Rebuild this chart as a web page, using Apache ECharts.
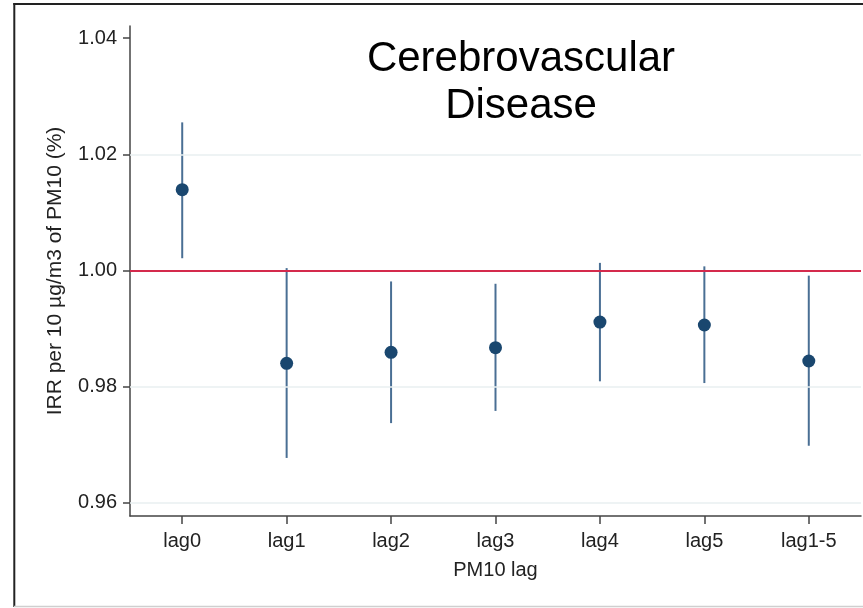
<!DOCTYPE html>
<html>
<head>
<meta charset="utf-8">
<title>Cerebrovascular Disease – IRR by PM10 lag</title>
<script src="https://cdn.jsdelivr.net/npm/echarts@6/dist/echarts.min.js"></script>
<style>
  html, body { margin: 0; padding: 0; background: #fff; }
  #chart { width: 863px; height: 608px; }
</style>
</head>
<body>
<div id="chart"></div>
<script>
// Lags of PM10 exposure
const lags = ['lag0', 'lag1', 'lag2', 'lag3', 'lag4', 'lag5', 'lag1-5'];
// Incidence rate ratio (point estimate) and 95% CI bounds
const irr      = [1.0139, 0.9840, 0.9859, 0.9867, 0.9911, 0.9906, 0.9844];
const ciLower  = [1.0021, 0.9677, 0.9737, 0.9758, 0.9809, 0.9806, 0.9698];
const ciUpper  = [1.0255, 1.0004, 0.9981, 0.9977, 1.0013, 1.0007, 0.9991];
// Y-axis ticks; 1.00 is the null-effect reference
const yTicks = [0.96, 0.98, 1.00, 1.02, 1.04];
const gridTicks = [0.96, 0.98, 1.02];
const referenceValue = 1.00;
const yRange = [0.9577, 1.0421];

const FONT = '"Liberation Sans", Arial, sans-serif';
const chart = echarts.init(document.getElementById('chart'), null, { renderer: 'canvas' });

const ciData = lags.map((_, i) => [i, ciLower[i], ciUpper[i]]);
const pointData = lags.map((_, i) => [i, irr[i]]);

chart.setOption({
  animation: false,
  backgroundColor: '#ffffff',
  grid: { left: 130, right: 2, top: 26, bottom: 92, containLabel: false },
  xAxis: {
    type: 'category',
    data: lags,
    boundaryGap: true,
    name: 'PM10 lag',
    nameLocation: 'middle',
    nameGap: 44,
    nameTextStyle: { fontSize: 20, color: '#222', fontFamily: FONT },
    axisLine: { show: true, lineStyle: { color: '#444', width: 1.5 } },
    axisTick: { show: true, alignWithLabel: true, length: 8, lineStyle: { color: '#444', width: 1.5 } },
    axisLabel: { fontSize: 20, color: '#222', fontFamily: FONT, margin: 15 },
    splitLine: { show: false }
  },
  yAxis: {
    type: 'value',
    min: yRange[0],
    max: yRange[1],
    name: 'IRR per 10 µg/m3 of PM10 (%)',
    nameLocation: 'middle',
    nameGap: 64,
    nameTextStyle: { fontSize: 21, color: '#222', fontFamily: FONT },
    axisLine: { show: true, lineStyle: { color: '#444', width: 1.5 } },
    axisTick: { show: true, length: 7, customValues: yTicks, lineStyle: { color: '#444', width: 1.5 } },
    axisLabel: {
      fontSize: 20, color: '#222', fontFamily: FONT, margin: 13,
      customValues: yTicks,
      formatter: v => v.toFixed(2)
    },
    splitLine: { show: false }
  },
  graphic: [
    {
      type: 'text',
      x: 521, y: 36,
      z: 10,
      style: {
        text: 'Cerebrovascular\nDisease',
        fill: '#000',
        fontSize: 42,
        fontFamily: FONT,
        lineHeight: 47,
        align: 'center',
        verticalAlign: 'top'
      }
    },
    // frame around the figure
    { type: 'line', z: 20, shape: { x1: 14.3, y1: 3, x2: 14.3, y2: 607 }, style: { stroke: '#222', lineWidth: 2 } },
    { type: 'line', z: 20, shape: { x1: 13.3, y1: 4, x2: 863, y2: 4 }, style: { stroke: '#222', lineWidth: 2 } },
    { type: 'line', z: 20, shape: { x1: 14, y1: 606.5, x2: 863, y2: 606.5 }, style: { stroke: '#cfcfcf', lineWidth: 1.5 } }
  ],
  series: [
    {
      // horizontal gridlines and the reference line at 1.00
      type: 'line',
      data: [],
      silent: true,
      z: 1,
      markLine: {
        silent: true,
        symbol: ['none', 'none'],
        label: { show: false },
        animation: false,
        data: gridTicks.map(v => ({ yAxis: v, lineStyle: { color: '#e8eff1', width: 1.5, type: 'solid' } }))
          .concat([{ yAxis: referenceValue, lineStyle: { color: '#d42a4c', width: 2, type: 'solid' } }])
      }
    },
    {
      // 95% confidence intervals
      type: 'custom',
      z: 3,
      data: ciData,
      renderItem: (params, api) => {
        const lo = api.coord([api.value(0), api.value(1)]);
        const hi = api.coord([api.value(0), api.value(2)]);
        return {
          type: 'line',
          shape: { x1: lo[0], y1: lo[1], x2: hi[0], y2: hi[1] },
          style: { stroke: '#4a6f94', lineWidth: 2 }
        };
      },
      encode: { x: 0, y: [1, 2] }
    },
    {
      // point estimates
      type: 'scatter',
      z: 4,
      data: pointData,
      symbol: 'circle',
      symbolSize: 13,
      itemStyle: { color: '#1a476f', opacity: 1 }
    }
  ]
});
</script>
</body>
</html>
